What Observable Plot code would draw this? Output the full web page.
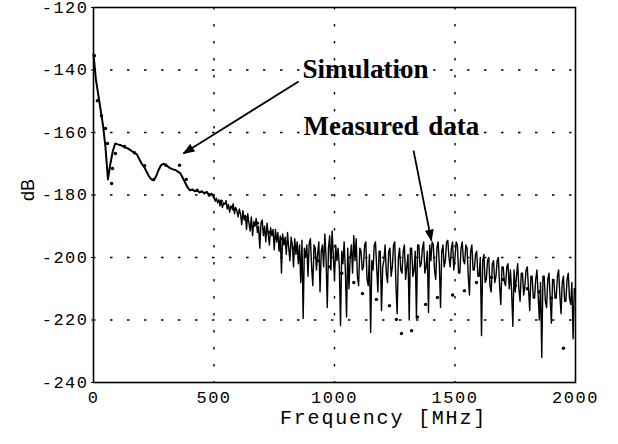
<!DOCTYPE html>
<html>
<head>
<meta charset="utf-8">
<script src="https://cdn.jsdelivr.net/npm/d3@7"></script>
<script src="https://cdn.jsdelivr.net/npm/@observablehq/plot@0.6"></script>
<style>
  html, body { margin: 0; padding: 0; background: #fff; }
  #chart svg { display: block; }
</style>
</head>
<body>
<div id="chart"></div>
<script>
// ---- data ----
// smooth part of the measured trace, 0..490 MHz every 10 MHz
const lowStepMHz = 10;
const lowDb = [
  -135, -143, -148, -153, -158, -165, -175, -170, -166, -163.5,          // 0-90
  -163.8, -164, -164.3, -164.8, -165, -165.5, -166, -166.5, -167, -168.5, // 100-190
  -170, -171, -172.5, -174, -175, -175.3, -174, -172, -170.5, -170,       // 200-290
  -170.3, -171, -171.5, -171.8, -172, -172.5, -173, -174.5, -176, -177.5, // 300-390
  -178.5, -178.2, -178.8, -178.5, -179.2, -178.8, -179.5, -179, -180, -179.6 // 400-490
];
// noisy part of the measured trace, 500..2000 MHz every 5 MHz
const noiseStartMHz = 500, noiseStepMHz = 5;
const noiseDb = [
  -180.8,-182,-181,-182.5,-181.5,-183.5,-182,-184,-182.5,-183,-181.8,-184.5,-183,-185.5,-183.5,-184.2,-182.8,-186,-184,-185, // 500
  -187,-184.5,-186,-189.5,-185,-188,-186.5,-191,-186,-189,-191.5,-187,-193,-188.5,-190,-187.5,-192,-190,-197,-189,          // 600
  -188,-193,-190,-195,-189,-192.5,-196,-190.5,-193,-191,-197.5,-191,-195,-192,-198,-193,-205,-192.5,-196,-193.5,            // 700
  -199,-192,-197,-201,-193.5,-196,-203,-194,-199,-195,-202,-196,-208,-194.5,-219.5,-197,-200,-196,-206,-195.5,              // 800
  -194,-203,-209,-196,-197,-204,-199,-195,-211,-198,-196,-203,-192.5,-200,-216,-197,-193,-204,-191.5,-199,                  // 900
  -207,-196,-201,-197,-203,-221.8,-198,-202,-195,-204,-219,-197,-210,-200,-196,-205,-193,-201,-194,-206,                    // 1000
  -209,-197,-198,-204,-203,-196,-195,-207,-209,-199,-224,-201,-204,-196,-195,-203,-211,-198,-198,-217,                      // 1100
  -203,-201,-196,-205,-208,-198,-197,-206,-203,-196,-195,-209,-218,-200,-197,-204,-205,-198,-196,-207,                      // 1200
  -203,-199,-220,-197,-197,-206,-204,-198,-219.5,-196,-196,-203,-202,-197,-195,-205,-203,-198,-217.6,-196,                  // 1300
  -201,-195,-196,-204,-207,-197,-195,-202,-216,-198,-196,-203,-201,-195,-194.5,-200,-203,-197,-195,-204,                    // 1400
  -200,-195,-196,-205,-205,-197,-195,-201,-202,-196,-197,-206,-212,-198,-196,-204,-204,-199,-198,-206,                      // 1500
  -206,-200,-225,-201,-199,-208,-207,-201,-200,-209,-211,-202,-201,-208,-206,-201,-200,-209,-215,-203,                      // 1600
  -203,-208,-209,-203,-202,-210,-204,-211,-222,-204,-211,-206,-202,-210,-214,-205,-205,-212,-209,-204,                      // 1700
  -203,-210,-217,-206,-206,-213,-213,-207,-204,-212,-220,-208,-232,-206,-206,-214,-216,-207,-205,-213,                      // 1800
  -221,-207,-207,-213,-213,-206,-204,-212,-218,-208,-206,-214,-214,-207,-205,-213,-215,-208,-226,-210,                      // 1900
  -210                                                                                                                       // 2000
];
const simFreq = [4,16,33,50,58,75,79,91,129,170,212,250,300,357,385,430,480,530,580,630,
  680,730,780,830,880,930,980,1030,1080,1116,1174,1228,1257,1278,1320,1344,1378,1427,1490,1539,
  1589,1651,1700,1750,1800,1850,1900,1950];
const simDb = [-135.4,-149.8,-154.6,-158.7,-163.5,-176.3,-171.5,-166.7,-164.5,-166.5,
  -170.6,-175,-170.5,-170.5,-175,-178.5,-180,-182,-184.5,-187,
  -189,-192,-194,-197,-199,-201,-203,-205,-208,-211.5,
  -213.4,-215.4,-219.8,-224.3,-223.4,-219,-215,-212.8,-212,-210.6,
  -208,-206.4,-207,-209,-210,-211,-213,-229];
const xTicks = [0, 500, 1000, 1500, 2000];
const yTicks = [-240, -220, -200, -180, -160, -140, -120];
const xGrid = [500, 1000, 1500];
const yGrid = [-220, -200, -180, -160, -140];
const labels = [
  {text: "Simulation", f: 867, db: -139.8},
  {text: "Measured data", f: 871, db: -158.1}
];
const arrows = [
  {f1: 851, d1: -143.7, f2: 373, d2: -166.7},
  {f1: 1328, d1: -165.8, f2: 1402, d2: -194.6}
];
const xTitle = "Frequency [MHz]";
const yTitle = "dB";

// ---- build tables ----
const noise = noiseDb.map((v, i) => ({f: noiseStartMHz + i * noiseStepMHz, db: v}));
const low = lowDb.map((v, i) => ({f: i * lowStepMHz, db: v})).concat([noise[0]]);
const sim = simFreq.map((f, i) => ({f, db: simDb[i]}));

function filledHead(color) {
  const m = d3.create("svg:marker")
    .attr("viewBox", "-11 -5 12 10")
    .attr("markerWidth", 12)
    .attr("markerHeight", 10)
    .attr("markerUnits", "userSpaceOnUse")
    .attr("orient", "auto")
    .attr("fill", "black")
    .attr("stroke", "none");
  m.append("path").attr("d", "M-11,-4.5L1,0L-11,4.5Z");
  return m.node();
}

const chart = Plot.plot({
  width: 618,
  height: 444,
  marginLeft: 93,
  marginRight: 43,
  marginTop: 7,
  marginBottom: 62,
  style: {fontFamily: "'Liberation Mono', monospace", fontSize: "17px", color: "black", background: "white"},
  x: {domain: [0, 2000], label: null},
  y: {domain: [-240, -120], label: null},
  marks: [
    Plot.ruleX(xGrid, {stroke: "black", strokeWidth: 1.4, strokeDasharray: "2.5,14.5"}),
    Plot.ruleY(yGrid, {stroke: "black", strokeWidth: 1.4, strokeDasharray: "2.5,14.5"}),
    Plot.line(low, {x: "f", y: "db", stroke: "black", strokeWidth: 2}),
    Plot.line(noise, {x: "f", y: "db", stroke: "black", strokeWidth: 1.4}),
    Plot.dot(sim, {x: "f", y: "db", r: 1.7, fill: "black", stroke: null}),
    Plot.frame({stroke: "black", strokeWidth: 1.6}),
    Plot.axisY({ticks: yTicks, tickFormat: d => String(d), tickSize: 2, tickPadding: 3, fontSize: 17}),
    Plot.axisX({ticks: xTicks, tickFormat: d => String(d), tickSize: 0, tickPadding: 8, fontSize: 17}),
    Plot.text([xTitle], {frameAnchor: "bottom", lineAnchor: "middle", dx: 49, dy: 35, fontSize: 20}),
    Plot.text([yTitle], {frameAnchor: "left", textAnchor: "middle", lineAnchor: "middle", rotate: -90, dx: -65, dy: -5, fontSize: 18,
      fontFamily: "'Liberation Sans', Arial, sans-serif"}),
    Plot.link(arrows, {x1: "f1", y1: "d1", x2: "f2", y2: "d2", stroke: "black", strokeWidth: 1.8, markerEnd: filledHead}),
    Plot.text(labels, {x: "f", y: "db", text: "text", textAnchor: "start", fontSize: 27, fontWeight: "bold",
      fontFamily: "'Liberation Serif', 'Times New Roman', serif", fill: "black"})
  ]
});
// typewriter-like spacing for the monospace texts, word spacing for the annotations
const annotationTexts = labels.map(l => l.text);
d3.select(chart).selectAll("text").each(function() {
  const t = this.textContent;
  if (annotationTexts.includes(t)) this.style.wordSpacing = "3px";
  else if (t === xTitle) this.style.letterSpacing = "1.8px";
  else if (t !== yTitle) this.style.letterSpacing = "1.5px";
});
document.getElementById("chart").appendChild(chart);
</script>
</body>
</html>
